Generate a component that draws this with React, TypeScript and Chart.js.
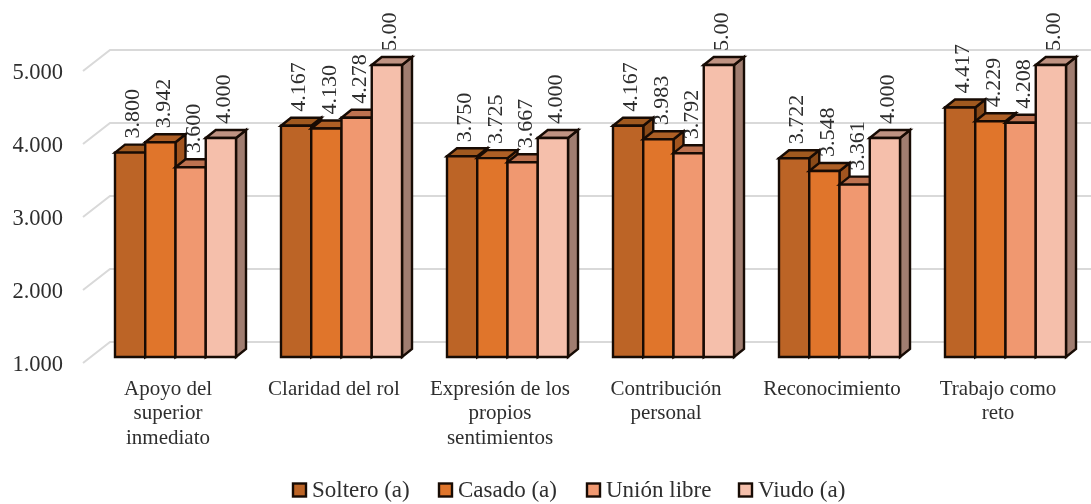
import React, { useEffect, useRef } from "react";
import { Chart, registerables } from "chart.js";

Chart.register(...registerables);

const categories = [
  ["Apoyo del", "superior", "inmediato"],
  ["Claridad del rol"],
  ["Expresión de los", "propios", "sentimientos"],
  ["Contribución", "personal"],
  ["Reconocimiento"],
  ["Trabajo como", "reto"],
];

const soltero = [3.8, 4.167, 3.75, 4.167, 3.722, 4.417];
const casado = [3.942, 4.13, 3.725, 3.983, 3.548, 4.229];
const unionLibre = [3.6, 4.278, 3.667, 3.792, 3.361, 4.208];
const viudo = [4.0, 5.0, 4.0, 5.0, 4.0, 5.0];

const seriesNames = ["Soltero (a)", "Casado (a)", "Unión libre", "Viudo (a)"];
const seriesValues = [soltero, casado, unionLibre, viudo];

const frontColors = ["#BC6426", "#E0752B", "#F09870", "#F5BFAB"];
const topColors = ["#A0591F", "#AE5F25", "#BE7250", "#C09382"];
const sideColors = ["#8A4A18", "#A2551F", "#A8664A", "#A07D70"];

const SERIF = "'Liberation Serif', 'Times New Roman', serif";
const INK = "#2E2E2E";
const EDGE = "#170B04";
const GRID = "#D9D9D9";

// Oblique projection of the 3D look: the wall sits behind the axis plane,
// the bars stand part way into that depth.
const WALL = { dx: 27, dy: 21 };
const BAR_SHIFT = { dx: 9.5, dy: 6 };
const BAR_DEPTH = { dx: 10, dy: 8 };

// Left edge of each legend swatch.
const LEGEND_LEFT = [293, 439, 587, 739];
const LEGEND_Y = 490;

const formatValue = (v: number) => (v === 5 ? "5.00" : v.toFixed(3));

function poly(ctx: CanvasRenderingContext2D, pts: number[][], fill: string) {
  ctx.beginPath();
  pts.forEach(([x, y], i) => (i ? ctx.lineTo(x, y) : ctx.moveTo(x, y)));
  ctx.closePath();
  ctx.fillStyle = fill;
  ctx.fill();
  ctx.stroke();
}

const prismPlugin = {
  id: "prism",
  beforeDatasetsDraw(chart: any) {
    // Gridlines: a diagonal on the floor side, then the run along the back wall.
    const { ctx, scales, chartArea } = chart;
    ctx.save();
    ctx.strokeStyle = GRID;
    ctx.lineWidth = 2;
    scales.y.ticks.forEach((t: any) => {
      const y = scales.y.getPixelForValue(t.value);
      ctx.beginPath();
      ctx.moveTo(chartArea.left, y);
      ctx.lineTo(chartArea.left + WALL.dx, y - WALL.dy);
      ctx.lineTo(chart.width, y - WALL.dy);
      ctx.stroke();
    });
    ctx.restore();
  },
  // The bars are painted as prisms below, so the flat rectangles are skipped.
  beforeDatasetDraw() {
    return false;
  },
  afterDatasetsDraw(chart: any) {
    const { ctx } = chart;
    const metas = seriesValues.map((_, i) => chart.getDatasetMeta(i));
    ctx.save();
    ctx.lineWidth = 2.4;
    ctx.lineJoin = "miter";
    ctx.strokeStyle = EDGE;
    // Left to right: a bar hides whatever stands on its left.
    metas.forEach((meta, s) => {
      meta.data.forEach((bar: any) => {
        const l = bar.x - bar.width / 2 + BAR_SHIFT.dx;
        const r = bar.x + bar.width / 2 + BAR_SHIFT.dx;
        const t = bar.y - BAR_SHIFT.dy;
        const b = bar.base - BAR_SHIFT.dy;
        const { dx, dy } = BAR_DEPTH;
        poly(ctx, [[r, t], [r + dx, t - dy], [r + dx, b - dy], [r, b]], sideColors[s]);
        poly(ctx, [[l, t], [l + dx, t - dy], [r + dx, t - dy], [r, t]], topColors[s]);
        poly(ctx, [[l, t], [r, t], [r, b], [l, b]], frontColors[s]);
      });
    });
    // Value labels, rotated, just above each bar's top face.
    ctx.font = `22px ${SERIF}`;
    ctx.fillStyle = INK;
    ctx.textAlign = "left";
    ctx.textBaseline = "middle";
    metas.forEach((meta, s) => {
      meta.data.forEach((bar: any, i: number) => {
        ctx.save();
        ctx.translate(bar.x + BAR_SHIFT.dx + 3.5, bar.y - BAR_SHIFT.dy - BAR_DEPTH.dy - 6);
        ctx.rotate(-Math.PI / 2);
        ctx.fillText(formatValue(seriesValues[s][i]), 0, 0);
        ctx.restore();
      });
    });
    // Legend row along the bottom edge.
    ctx.font = `23px ${SERIF}`;
    seriesNames.forEach((name, s) => {
      const x = LEGEND_LEFT[s];
      ctx.fillStyle = frontColors[s];
      ctx.fillRect(x, LEGEND_Y - 6.5, 13, 13);
      ctx.strokeRect(x, LEGEND_Y - 6.5, 13, 13);
      ctx.fillStyle = INK;
      ctx.fillText(name, x + 19, LEGEND_Y + 1);
    });
    ctx.restore();
  },
};

export default function App() {
  const ref = useRef<HTMLCanvasElement>(null);
  useEffect(() => {
    const chart = new Chart(ref.current!, {
      type: "bar",
      data: {
        labels: categories,
        datasets: seriesNames.map((label, i) => ({
          label,
          data: seriesValues[i],
          base: 1,
          backgroundColor: frontColors[i],
          borderColor: EDGE,
          borderWidth: 2,
          categoryPercentage: 0.729,
          barPercentage: 1,
        })),
      },
      options: {
        animation: false,
        responsive: false,
        layout: { padding: { top: 71, left: 0, right: 12, bottom: 0 } },
        plugins: { legend: { display: false }, tooltip: { enabled: false } },
        scales: {
          x: {
            grid: { display: false },
            border: { display: false },
            afterFit: (s: any) => {
              s.height = 141;
            },
            ticks: {
              maxRotation: 0,
              autoSkip: false,
              padding: 6,
              labelOffset: 2,
              color: INK,
              font: { family: SERIF, size: 21, lineHeight: 1.167 },
            },
          },
          y: {
            min: 1,
            max: 5,
            grid: { display: false, drawTicks: false },
            border: { display: false },
            afterFit: (s: any) => {
              s.width = 83;
            },
            ticks: {
              stepSize: 1,
              padding: 20,
              labelOffset: 2,
              color: INK,
              font: { family: SERIF, size: 22.5 },
              callback: (v: any) => Number(v).toFixed(3),
            },
          },
        },
      },
      plugins: [prismPlugin],
    } as any);
    return () => chart.destroy();
  }, []);
  return (
    <div style={{ position: "fixed", left: 0, top: 0, width: 1091, height: 504, background: "#fff" }}>
      <canvas ref={ref} width={1091} height={504} style={{ display: "block" }} />
    </div>
  );
}
